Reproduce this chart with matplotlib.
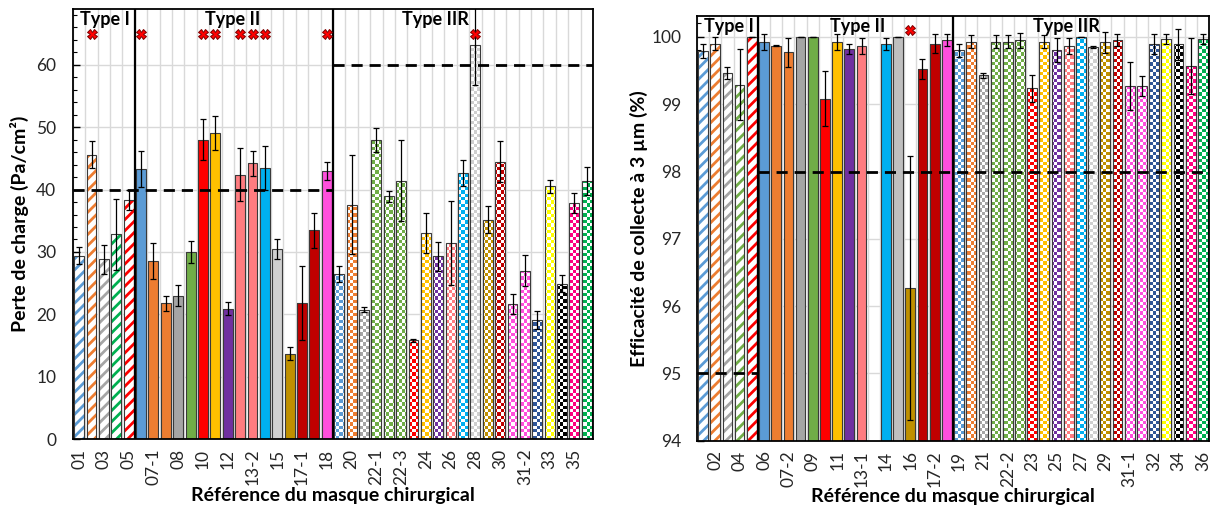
import numpy as np
import matplotlib
matplotlib.use("Agg")
import matplotlib.pyplot as plt
from matplotlib.colors import to_rgb
from matplotlib.ticker import MultipleLocator, FixedLocator

plt.rcParams['font.family'] = ['Lato', 'DejaVu Sans']
plt.rcParams['hatch.linewidth'] = 2.0

# ---------------- data ----------------
categories = ['01', '02', '03', '04', '05', '06', '07-1', '07-2', '08', '09', '10', '11',
              '12', '13-1', '13-2', '14', '15', '16', '17-1', '17-2', '18', '19', '20',
              '21', '22-1', '22-2', '22-3', '23', '24', '25', '26', '27', '28', '29',
              '30', '31-1', '31-2', '32', '33', '34', '35', '36']

mask_type = ['I'] * 5 + ['II'] * 16 + ['IIR'] * 21

pressure_drop = [29.4, 45.6, 28.8, 32.8, 38.3, 43.3, 28.6, 21.8, 23.0, 30.0, 48.0, 49.1,
                 20.9, 42.4, 44.2, 43.5, 30.5, 13.7, 21.8, 33.5, 43.0, 26.4, 37.6,
                 20.7, 48.0, 38.9, 41.4, 15.8, 33.0, 29.3, 31.4, 42.6, 63.2, 35.2,
                 44.5, 21.7, 27.0, 19.1, 40.5, 24.9, 37.9, 41.4]
pressure_err = [1.4, 2.2, 2.3, 5.7, 1.6, 2.9, 2.9, 1.2, 1.7, 1.7, 3.3, 2.7,
                1.0, 4.2, 2.0, 3.5, 1.6, 1.0, 6.0, 2.8, 1.4, 1.3, 8.0,
                0.4, 1.9, 0.9, 6.5, 0.3, 3.2, 2.3, 6.7, 2.1, 6.4, 2.2,
                3.3, 1.6, 2.5, 1.4, 1.1, 1.4, 1.6, 2.2]

efficiency = [99.79, 99.90, 99.46, 99.29, 100.0, 99.92, 99.87, 99.77, 100.0, 100.0, 99.08, 99.92,
              99.82, 99.87, np.nan, 99.90, 100.0, 96.27, 99.52, 99.90, 99.95, 99.80, 99.93,
              99.43, 99.93, 99.93, 99.95, 99.24, 99.93, 99.80, 99.87, 100.0, 99.85, 99.92,
              99.95, 99.27, 99.27, 99.89, 99.97, 99.89, 99.57, 99.97]
efficiency_err = [0.10, 0.10, 0.09, 0.53, 0.0, 0.12, 0.01, 0.21, 0.0, 0.0, 0.41, 0.12,
                  0.07, 0.12, np.nan, 0.09, 0.0, 1.96, 0.15, 0.14, 0.09, 0.10, 0.10,
                  0.04, 0.10, 0.10, 0.11, 0.20, 0.10, 0.18, 0.12, 0.0, 0.01, 0.16,
                  0.09, 0.36, 0.15, 0.15, 0.07, 0.23, 0.42, 0.07]

colors = ['#5B9BD5', '#ED7D31', '#A5A5A5', '#00B050', '#FF0000',
          '#5B9BD5', '#ED7D31', '#ED7D31', '#A5A5A5', '#70AD47', '#FF0000', '#FFC000',
          '#7030A0', '#FF7C80', '#FF7C80', '#00B0F0', '#D0D0D0', '#BF9000', '#C00000',
          '#C00000', '#FF4FDC',
          '#5B9BD5', '#ED7D31', '#A5A5A5', '#70AD47', '#70AD47', '#70AD47', '#FF0000',
          '#FFC000', '#7030A0', '#FF7C80', '#00B0F0', '#D0D0D0', '#BF9000', '#C00000',
          '#FF4FDC', '#FF4FDC', '#2F5597', '#FFFF00', '#000000', '#FF0080', '#00B050']
colors_right_override = {'04': '#70AD47', '15': '#BFBFBF'}

# masks marked with a red cross
flagged_pressure = ['02', '06', '10', '11', '13-1', '13-2', '14', '18', '28']
flagged_efficiency = ['16']

# thresholds per mask type
threshold_pressure = {'I': 40, 'II': 40, 'IIR': 60}
threshold_efficiency = {'I': 95, 'II': 98, 'IIR': 98}

type_labels = {'I': 'Type I', 'II': 'Type II', 'IIR': 'Type IIR'}

# ---------------- helpers ----------------
x = np.arange(len(categories))
EDGE = '#3a3a3a'


def group_bounds(t):
    idx = [i for i, m in enumerate(mask_type) if m == t]
    return min(idx) - 0.5, max(idx) + 0.5


def draw_panel(ax, values, errs, cols, base, ylim, ncell, ypad):
    xlim = (-0.5, len(categories) - 0.5)
    vals = np.array(values, dtype=float)
    heights = vals - base
    for i, (h, c, t) in enumerate(zip(heights, cols, mask_type)):
        if np.isnan(h):
            continue
        if t == 'I':
            ax.bar(x[i], h, bottom=base, width=0.8, facecolor='white', edgecolor=c,
                   hatch='///', linewidth=0, zorder=2)
        elif t == 'II':
            ax.bar(x[i], h, bottom=base, width=0.8, facecolor=c, linewidth=0, zorder=2)
        else:
            bars = ax.bar(x[i], h, bottom=base, width=0.8, facecolor='white',
                          linewidth=0, zorder=2)
            rgb = np.array(to_rgb(c))
            nr, nc = ncell
            ii, jj = np.indices((nr, nc))
            img = np.ones((nr, nc, 3))
            img[(ii + jj) % 2 == 0] = rgb
            im = ax.imshow(img, extent=(xlim[0], xlim[1], ylim[0], ylim[1]),
                           origin='lower', interpolation='nearest', aspect='auto',
                           zorder=2.1)
            im.set_clip_path(bars.patches[0])
    ax.bar(x, heights, bottom=base, width=0.8, facecolor='none', edgecolor=EDGE,
           linewidth=0.8, zorder=2.5)
    ax.errorbar(x, vals, yerr=errs, fmt='none', ecolor='black', elinewidth=0.9,
                capsize=2.5, capthick=0.9, zorder=3)
    ax.set_xlim(*xlim)
    ax.set_ylim(*ylim)
    # separators between mask types
    for t in ['I', 'II']:
        ax.axvline(group_bounds(t)[1], color='black', linewidth=1.6, zorder=4)
    # grid
    ax.xaxis.set_minor_locator(FixedLocator(np.arange(len(categories) + 1) - 0.5))
    ax.grid(True, which='minor', axis='x', color='#D9D9D9', linewidth=1.0, zorder=0)
    ax.grid(True, which='major', axis='y', color='#D9D9D9', linewidth=1.0, zorder=0)
    ax.set_axisbelow(True)
    for s in ax.spines.values():
        s.set_color('black')
        s.set_linewidth(1.3)
        s.set_zorder(5)
    ax.tick_params(axis='x', which='both', length=0, pad=7, labelsize=12.5,
                   labelcolor='#262626')
    ax.tick_params(axis='y', which='major', direction='in', length=5, width=1.0,
                   labelsize=12.5, labelcolor='#262626', pad=ypad)
    ax.tick_params(axis='y', which='minor', direction='in', length=3, width=0.8)


fig = plt.figure(figsize=(12.1, 5.11), dpi=100)
ax1 = fig.add_axes([0.0603, 0.1409, 0.4298, 0.842])
ax2 = fig.add_axes([0.576, 0.1376, 0.4231, 0.831])

# ---- left panel: pressure drop ----
draw_panel(ax1, pressure_drop, pressure_err, colors, 0, (0, 69), (130, 158), 12)
ax1.yaxis.set_major_locator(MultipleLocator(10))
ax1.yaxis.set_minor_locator(MultipleLocator(2))
ax1.set_yticks(np.arange(0, 61, 10))
ax1.set_ylim(0, 69)
ax1.set_xticks(x[0::2])
ax1.set_xticklabels(categories[0::2], rotation=90)
for thr in sorted(set(threshold_pressure.values())):
    ts = [t for t in threshold_pressure if threshold_pressure[t] == thr]
    x0 = min(group_bounds(t)[0] for t in ts)
    x1 = max(group_bounds(t)[1] for t in ts)
    ax1.hlines(thr, x0, x1, colors='black', linestyles=(0, (4, 2.5)), linewidth=2.0,
               zorder=3.5)
fx = [categories.index(c) for c in flagged_pressure]
ax1.plot(fx, [65] * len(fx), linestyle='none', marker='X', markersize=7,
         markerfacecolor='#FF0000', markeredgecolor='#7A0000', markeredgewidth=0.7,
         zorder=6, clip_on=False)
ax1.text(2.1, 67.3, type_labels['I'], ha='center', va='center', fontsize=13,
         fontweight='bold', zorder=6)
ax1.text(12.4, 67.3, type_labels['II'], ha='center', va='center', fontsize=13,
         fontweight='bold', zorder=6)
ax1.text(28.8, 67.3, type_labels['IIR'], ha='center', va='center', fontsize=13,
         fontweight='bold', zorder=6)
ax1.set_ylabel('Perte de charge (Pa/cm²)', fontsize=14, fontweight='bold', labelpad=5)
ax1.set_xlabel('Référence du masque chirurgical', fontsize=14, fontweight='bold',
               labelpad=1)

# ---- right panel: collection efficiency ----
cols_r = [colors_right_override.get(c, col) for c, col in zip(categories, colors)]
draw_panel(ax2, efficiency, efficiency_err, cols_r, 94, (94, 100.31), (128, 155), 11)
ax2.yaxis.set_major_locator(MultipleLocator(1))
ax2.yaxis.set_minor_locator(MultipleLocator(0.2))
ax2.set_ylim(94, 100.31)
ax2.set_xticks(x[1::2])
ax2.set_xticklabels(categories[1::2], rotation=90)
for thr in sorted(set(threshold_efficiency.values())):
    ts = [t for t in threshold_efficiency if threshold_efficiency[t] == thr]
    x0 = min(group_bounds(t)[0] for t in ts)
    x1 = max(group_bounds(t)[1] for t in ts)
    ax2.hlines(thr, x0, x1, colors='black', linestyles=(0, (4, 2.5)), linewidth=2.0,
               zorder=3.5)
fx = [categories.index(c) for c in flagged_efficiency]
ax2.plot(fx, [100.11] * len(fx), linestyle='none', marker='X', markersize=7,
         markerfacecolor='#FF0000', markeredgecolor='#7A0000', markeredgewidth=0.7,
         zorder=6, clip_on=False)
ax2.text(2.15, 100.16, type_labels['I'], ha='center', va='center', fontsize=13,
         fontweight='bold', zorder=6)
ax2.text(12.7, 100.16, type_labels['II'], ha='center', va='center', fontsize=13,
         fontweight='bold', zorder=6)
ax2.text(29.8, 100.16, type_labels['IIR'], ha='center', va='center', fontsize=13,
         fontweight='bold', zorder=6)
ax2.set_ylabel('Efficacité de collecte à 3 µm (%)', fontsize=14, fontweight='bold',
               labelpad=3)
ax2.set_xlabel('Référence du masque chirurgical', fontsize=14, fontweight='bold',
               labelpad=1)

fig.savefig('out.png', dpi=100)
